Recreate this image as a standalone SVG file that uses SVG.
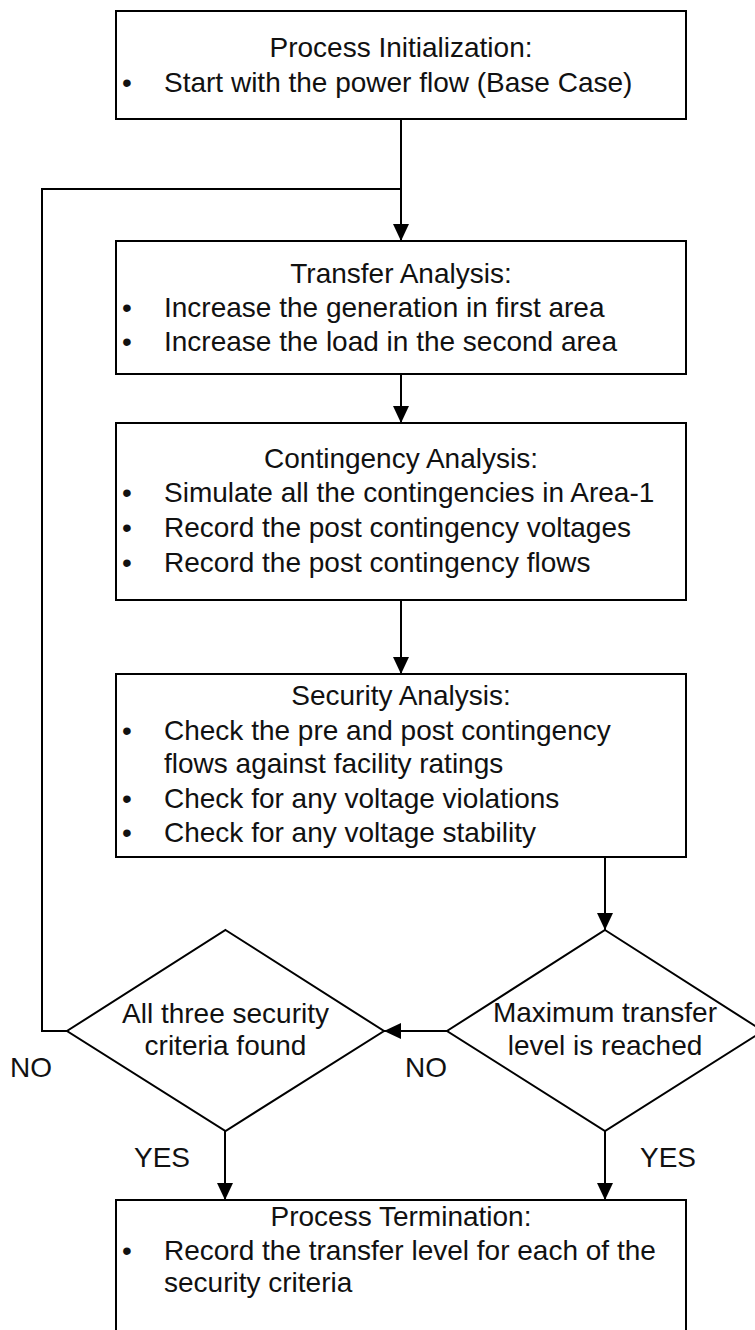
<svg xmlns="http://www.w3.org/2000/svg" width="755" height="1330" viewBox="0 0 755 1330">
  <defs>
    <marker id="arrow" markerUnits="userSpaceOnUse" markerWidth="18" markerHeight="18" refX="17" refY="8" orient="auto" viewBox="0 0 18 16">
      <path d="M0,0 L17,8 L0,16 z" fill="#000"/>
    </marker>
    <style>
      .box { fill: #fff; stroke: #000; stroke-width: 2; }
      .dia { fill: #fff; stroke: #000; stroke-width: 2; }
      .t { font-family: "Liberation Sans", Arial, sans-serif; font-size: 28px; fill: #111; }
      .c { text-anchor: middle; }
      .edge { fill: none; stroke: #000; stroke-width: 2; }
    </style>
  </defs>
  <rect width="755" height="1330" fill="#fff"/>

  <g id="connectors">
    <line class="edge" x1="401" y1="119" x2="401" y2="241" marker-end="url(#arrow)"/>
    <polyline class="edge" points="67,1031 42,1031 42,189 401,189"/>
    <line class="edge" x1="401" y1="374" x2="401" y2="423" marker-end="url(#arrow)"/>
    <line class="edge" x1="401" y1="600" x2="401" y2="674" marker-end="url(#arrow)"/>
    <line class="edge" x1="605" y1="857" x2="605" y2="930" marker-end="url(#arrow)"/>
    <line class="edge" x1="447" y1="1031" x2="384" y2="1031" marker-end="url(#arrow)"/>
    <line class="edge" x1="225" y1="1131" x2="225" y2="1200" marker-end="url(#arrow)"/>
    <line class="edge" x1="605" y1="1131" x2="605" y2="1200" marker-end="url(#arrow)"/>
    <text class="t" x="10" y="1077">NO</text>
    <text class="t" x="405" y="1077">NO</text>
    <text class="t" x="134" y="1167">YES</text>
    <text class="t" x="640" y="1167">YES</text>
  </g>

  <g id="init">
    <rect class="box" x="116" y="11" width="570" height="108"/>
    <text class="t c" x="401" y="57">Process Initialization:</text>
    <text class="t" x="122" y="92">•</text>
    <text class="t" x="164" y="92">Start with the power flow (Base Case)</text>
  </g>

  <g id="transfer">
    <rect class="box" x="116" y="241" width="570" height="133"/>
    <text class="t c" x="401" y="283">Transfer Analysis:</text>
    <text class="t" x="122" y="317">•</text>
    <text class="t" x="164" y="317">Increase the generation in first area</text>
    <text class="t" x="122" y="351">•</text>
    <text class="t" x="164" y="351">Increase the load in the second area</text>
  </g>

  <g id="contingency">
    <rect class="box" x="116" y="423" width="570" height="177"/>
    <text class="t c" x="401" y="468">Contingency Analysis:</text>
    <text class="t" x="122" y="502">•</text>
    <text class="t" x="164" y="502">Simulate all the contingencies in Area-1</text>
    <text class="t" x="122" y="537">•</text>
    <text class="t" x="164" y="537">Record the post contingency voltages</text>
    <text class="t" x="122" y="572">•</text>
    <text class="t" x="164" y="572">Record the post contingency flows</text>
  </g>

  <g id="security">
    <rect class="box" x="116" y="674" width="570" height="183"/>
    <text class="t c" x="401" y="705">Security Analysis:</text>
    <text class="t" x="122" y="740">•</text>
    <text class="t" x="164" y="740">Check the pre and post contingency</text>
    <text class="t" x="164" y="773">flows against facility ratings</text>
    <text class="t" x="122" y="808">•</text>
    <text class="t" x="164" y="808">Check for any voltage violations</text>
    <text class="t" x="122" y="842">•</text>
    <text class="t" x="164" y="842">Check for any voltage stability</text>
  </g>

  <g id="criteria">
    <polygon class="dia" points="225.5,930 384,1031 225.5,1131 67,1031"/>
    <text class="t c" x="225.5" y="1023">All three security</text>
    <text class="t c" x="225.5" y="1055">criteria found</text>
  </g>

  <g id="maxlevel">
    <polygon class="dia" points="605,930 763,1031 605,1131 447,1031"/>
    <text class="t c" x="605" y="1022">Maximum transfer</text>
    <text class="t c" x="605" y="1055">level is reached</text>
  </g>

  <g id="termination">
    <rect class="box" x="116" y="1200" width="570" height="140"/>
    <text class="t c" x="401" y="1226">Process Termination:</text>
    <text class="t" x="122" y="1260">•</text>
    <text class="t" x="164" y="1260">Record the transfer level for each of the</text>
    <text class="t" x="164" y="1292">security criteria</text>
  </g>
</svg>
